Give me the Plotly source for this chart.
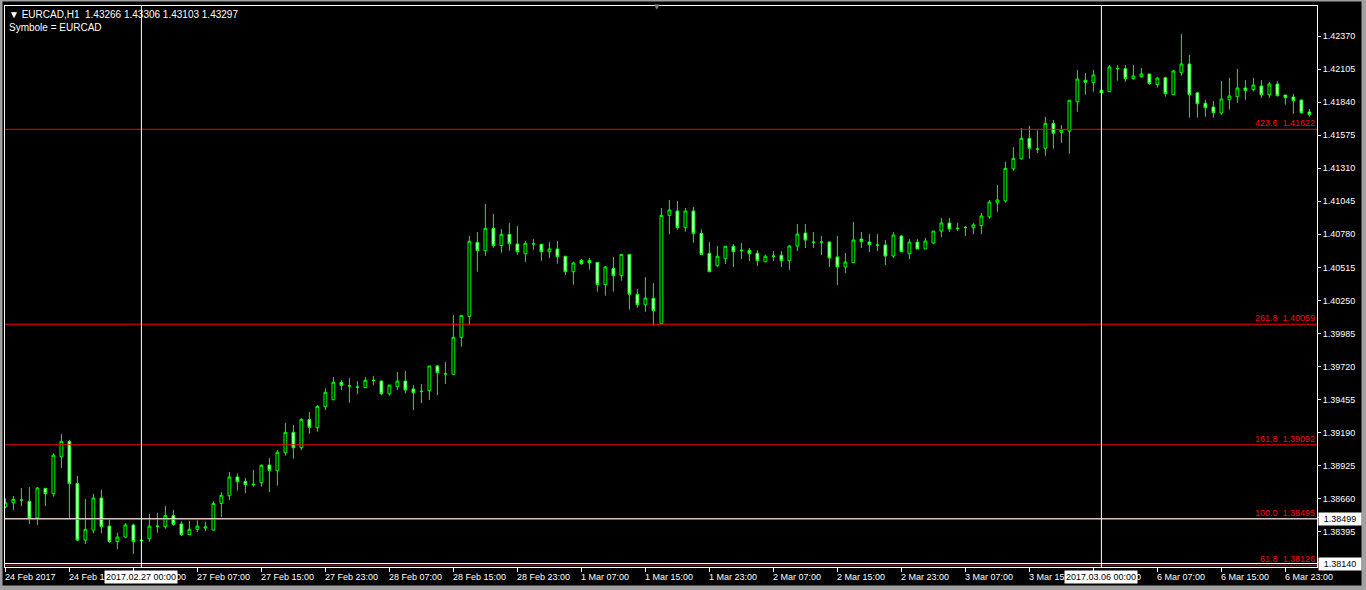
import plotly.graph_objects as go
import pandas as pd

# ---------------- data ----------------
times = [t.strftime("%Y.%m.%d %H:%M")
         for t in pd.date_range("2017-02-24 07:00", "2017-03-07 02:00", freq="h")
         if t.weekday() < 5]

open_ = [1.38595, 1.38627, 1.38646, 1.38639, 1.38505, 1.38743, 1.38700, 1.38996, 1.39120, 1.38783,
         1.38328, 1.38408, 1.38665, 1.38440, 1.38315, 1.38352, 1.38449, 1.38328, 1.38339, 1.38438,
         1.38435, 1.38526, 1.38457, 1.38371, 1.38414, 1.38424, 1.38408, 1.38622, 1.38683, 1.38834,
         1.38799, 1.38777, 1.38788, 1.38930, 1.38884, 1.39028, 1.39192, 1.39068, 1.39296, 1.39229,
         1.39397, 1.39453, 1.39593, 1.39566, 1.39553, 1.39550, 1.39606, 1.39603, 1.39501, 1.39558,
         1.39603, 1.39539, 1.39518, 1.39526, 1.39724, 1.39662, 1.39657, 1.39954, 1.40122, 1.40716,
         1.40648, 1.40828, 1.40689, 1.40780, 1.40702, 1.40624, 1.40702, 1.40700, 1.40640, 1.40662,
         1.40604, 1.40480, 1.40571, 1.40571, 1.40555, 1.40376, 1.40507, 1.40448, 1.40619, 1.40299,
         1.40215, 1.40267, 1.40063, 1.40932, 1.40967, 1.40833, 1.40967, 1.40788, 1.40628, 1.40528,
         1.40584, 1.40684, 1.40648, 1.40652, 1.40628, 1.40560, 1.40606, 1.40612, 1.40568, 1.40686,
         1.40790, 1.40718, 1.40716, 1.40718, 1.40598, 1.40518, 1.40552, 1.40742, 1.40718, 1.40694,
         1.40694, 1.40606, 1.40766, 1.40624, 1.40718, 1.40662, 1.40710, 1.40806, 1.40871, 1.40825,
         1.40833, 1.40833, 1.40849, 1.40921, 1.41033, 1.41049, 1.41306, 1.41386, 1.41550, 1.41462,
         1.41470, 1.41670, 1.41598, 1.41608, 1.41843, 1.42015, 1.41996, 1.41935, 1.41924, 1.42108,
         1.42108, 1.42028, 1.42044, 1.42066, 1.41980, 1.42036, 1.41899, 1.42076, 1.42146, 1.41915,
         1.41831, 1.41801, 1.41753, 1.41859, 1.41884, 1.41953, 1.41940, 1.41969, 1.41899, 1.41985,
         1.41897, 1.41881, 1.41857, 1.41761]

high_ = [1.38663, 1.38681, 1.38745, 1.38753, 1.38753, 1.38743, 1.39024, 1.39178, 1.39130, 1.38842,
         1.38657, 1.38697, 1.38732, 1.38489, 1.38387, 1.38465, 1.38459, 1.38334, 1.38539, 1.38547,
         1.38601, 1.38569, 1.38478, 1.38481, 1.38486, 1.38475, 1.38639, 1.38711, 1.38874, 1.38863,
         1.38825, 1.38890, 1.38935, 1.38986, 1.39050, 1.39267, 1.39251, 1.39304, 1.39355, 1.39411,
         1.39545, 1.39635, 1.39611, 1.39627, 1.39603, 1.39635, 1.39643, 1.39609, 1.39571, 1.39676,
         1.39684, 1.39571, 1.39579, 1.39724, 1.39732, 1.39756, 1.40133, 1.40130, 1.40766, 1.40798,
         1.41023, 1.40943, 1.40822, 1.40871, 1.40847, 1.40726, 1.40742, 1.40700, 1.40718, 1.40726,
         1.40604, 1.40560, 1.40582, 1.40590, 1.40555, 1.40526, 1.40598, 1.40619, 1.40619, 1.40341,
         1.40437, 1.40389, 1.40991, 1.41055, 1.41047, 1.40991, 1.40999, 1.40820, 1.40718, 1.40686,
         1.40684, 1.40702, 1.40710, 1.40670, 1.40652, 1.40616, 1.40646, 1.40646, 1.40694, 1.40862,
         1.40862, 1.40798, 1.40766, 1.40726, 1.40766, 1.40630, 1.40879, 1.40798, 1.40782, 1.40782,
         1.40734, 1.40798, 1.40774, 1.40742, 1.40742, 1.40750, 1.40806, 1.40911, 1.40911, 1.40871,
         1.40847, 1.40871, 1.40951, 1.41055, 1.41175, 1.41360, 1.41480, 1.41632, 1.41648, 1.41614,
         1.41721, 1.41697, 1.41656, 1.41855, 1.42098, 1.42073, 1.42098, 1.41945, 1.42138, 1.42138,
         1.42138, 1.42138, 1.42114, 1.42066, 1.42042, 1.42044, 1.42098, 1.42386, 1.42218, 1.41924,
         1.41859, 1.41849, 1.42009, 1.42033, 1.42106, 1.42017, 1.42033, 1.42017, 1.42001, 1.42009,
         1.41897, 1.41905, 1.41857, 1.41785]

low_ = [1.38582, 1.38569, 1.38601, 1.38457, 1.38449, 1.38601, 1.38676, 1.38906, 1.38502, 1.38320,
        1.38296, 1.38382, 1.38382, 1.38307, 1.38256, 1.38344, 1.38218, 1.38315, 1.38315, 1.38387,
        1.38419, 1.38443, 1.38360, 1.38371, 1.38392, 1.38400, 1.38400, 1.38513, 1.38649, 1.38724,
        1.38705, 1.38756, 1.38756, 1.38713, 1.38764, 1.39004, 1.38980, 1.39050, 1.39181, 1.39197,
        1.39371, 1.39453, 1.39531, 1.39429, 1.39499, 1.39550, 1.39571, 1.39491, 1.39485, 1.39531,
        1.39506, 1.39371, 1.39427, 1.39451, 1.39491, 1.39579, 1.39654, 1.39878, 1.40060, 1.40480,
        1.40608, 1.40672, 1.40632, 1.40648, 1.40616, 1.40558, 1.40656, 1.40568, 1.40590, 1.40544,
        1.40454, 1.40376, 1.40536, 1.40496, 1.40320, 1.40288, 1.40320, 1.40408, 1.40175, 1.40191,
        1.40159, 1.40047, 1.40063, 1.40782, 1.40817, 1.40801, 1.40712, 1.40619, 1.40480, 1.40518,
        1.40542, 1.40518, 1.40582, 1.40566, 1.40526, 1.40560, 1.40566, 1.40518, 1.40494, 1.40646,
        1.40670, 1.40670, 1.40614, 1.40518, 1.40373, 1.40470, 1.40552, 1.40670, 1.40638, 1.40646,
        1.40534, 1.40590, 1.40640, 1.40582, 1.40662, 1.40662, 1.40702, 1.40758, 1.40798, 1.40806,
        1.40766, 1.40782, 1.40782, 1.40905, 1.40961, 1.41033, 1.41290, 1.41378, 1.41386, 1.41432,
        1.41410, 1.41466, 1.41514, 1.41426, 1.41763, 1.41899, 1.41924, 1.41909, 1.41924, 1.42012,
        1.42004, 1.42020, 1.42036, 1.41980, 1.41956, 1.41884, 1.41899, 1.42052, 1.41715, 1.41715,
        1.41723, 1.41715, 1.41739, 1.41779, 1.41835, 1.41859, 1.41924, 1.41875, 1.41875, 1.41884,
        1.41819, 1.41747, 1.41747, 1.41723]

close_ = [1.38627, 1.38655, 1.38649, 1.38505, 1.38745, 1.38700, 1.39008, 1.39120, 1.38780, 1.38328,
          1.38414, 1.38665, 1.38435, 1.38315, 1.38352, 1.38449, 1.38315, 1.38323, 1.38440, 1.38440,
          1.38526, 1.38454, 1.38371, 1.38414, 1.38440, 1.38433, 1.38622, 1.38687, 1.38834, 1.38796,
          1.38772, 1.38772, 1.38927, 1.38887, 1.39032, 1.39192, 1.39068, 1.39296, 1.39232, 1.39400,
          1.39513, 1.39593, 1.39569, 1.39563, 1.39555, 1.39609, 1.39609, 1.39501, 1.39571, 1.39603,
          1.39531, 1.39509, 1.39521, 1.39724, 1.39670, 1.39660, 1.39954, 1.40130, 1.40724, 1.40648,
          1.40828, 1.40689, 1.40780, 1.40705, 1.40640, 1.40708, 1.40705, 1.40640, 1.40662, 1.40600,
          1.40480, 1.40550, 1.40544, 1.40552, 1.40376, 1.40518, 1.40448, 1.40619, 1.40299, 1.40215,
          1.40269, 1.40167, 1.40932, 1.40975, 1.40833, 1.40967, 1.40786, 1.40619, 1.40480, 1.40604,
          1.40684, 1.40640, 1.40652, 1.40624, 1.40568, 1.40604, 1.40604, 1.40568, 1.40686, 1.40782,
          1.40734, 1.40716, 1.40718, 1.40590, 1.40518, 1.40558, 1.40734, 1.40721, 1.40697, 1.40692,
          1.40606, 1.40774, 1.40640, 1.40718, 1.40662, 1.40726, 1.40806, 1.40871, 1.40822, 1.40828,
          1.40836, 1.40855, 1.40927, 1.41039, 1.41055, 1.41309, 1.41389, 1.41550, 1.41470, 1.41464,
          1.41670, 1.41590, 1.41616, 1.41855, 1.42025, 1.41999, 1.42058, 1.41915, 1.42122, 1.42110,
          1.42028, 1.42050, 1.42066, 1.41988, 1.42033, 1.41908, 1.42090, 1.42146, 1.41899, 1.41827,
          1.41795, 1.41755, 1.41865, 1.41889, 1.41953, 1.41932, 1.41977, 1.41899, 1.41985, 1.41892,
          1.41875, 1.41851, 1.41755, 1.41739]

x_tick_idx = list(range(0, 161, 8))
x_tick_labels = ["24 Feb 2017", "24 Feb 15:00", "24 Feb 23:00", "27 Feb 07:00", "27 Feb 15:00",
                 "27 Feb 23:00", "28 Feb 07:00", "28 Feb 15:00", "28 Feb 23:00", "1 Mar 07:00",
                 "1 Mar 15:00", "1 Mar 23:00", "2 Mar 07:00", "2 Mar 15:00", "2 Mar 23:00",
                 "3 Mar 07:00", "3 Mar 15:00", "3 Mar 23:00", "6 Mar 07:00", "6 Mar 15:00",
                 "6 Mar 23:00"]
y_tick_vals = [1.42370, 1.42105, 1.41840, 1.41575, 1.41310, 1.41045, 1.40780, 1.40515,
               1.40250, 1.39985, 1.39720, 1.39455, 1.39190, 1.38925, 1.38660, 1.38395]
fib_levels = ["423.6", "261.8", "161.8", "100.0", "61.8"]
fib_prices = [1.41622, 1.40059, 1.39092, 1.38495, 1.38126]
hline_prices = [1.38499, 1.38140]
vline_times = ["2017.02.27 00:00", "2017.03.06 00:00"]
header_line1 = "▼ EURCAD,H1\u00a0\u00a01.43266 1.43306 1.43103 1.43297"
header_line2 = "Symbole = EURCAD"

# ---------------- layout geometry ----------------
W, H = 1366, 590
ML, MR, MT, MB = 5, 49, 6, 23
PW, PH = W - ML - MR, H - MT - MB


def px_x(px):
    return (px - ML) / PW


def px_y(py):
    return (H - MB - py) / PH


FONT = "Liberation Sans, Arial, sans-serif"
GREEN = "#00FF00"

fig = go.Figure()
fig.add_trace(go.Candlestick(
    x=times, open=open_, high=high_, low=low_, close=close_,
    increasing=dict(line=dict(color=GREEN, width=1), fillcolor="#000000"),
    decreasing=dict(line=dict(color=GREEN, width=1), fillcolor="#FFFFFF"),
    whiskerwidth=0, showlegend=False, hoverinfo="skip",
))

shapes = []
annotations = []

# red fibonacci lines + labels
for lvl, p in zip(fib_levels, fib_prices):
    shapes.append(dict(type="line", xref="paper", x0=0, x1=1, yref="y", y0=p, y1=p,
                       line=dict(color="#FF0000", width=1), layer="above"))
    annotations.append(dict(xref="paper", x=1, xanchor="right", xshift=-1,
                            yref="y", y=p, yanchor="bottom", yshift=0,
                            text=f"{lvl}\u00a0\u00a0{p:.5f}", showarrow=False,
                            font=dict(family=FONT, size=9, color="#FF0000"), borderpad=0))

# white horizontal lines and their price boxes
for p in hline_prices:
    shapes.append(dict(type="line", xref="paper", x0=0, x1=1, yref="y", y0=p, y1=p,
                       line=dict(color="#FFFFFF", width=1), layer="above"))

# white vertical lines
for t in vline_times:
    shapes.append(dict(type="line", xref="x", x0=t, x1=t, yref="paper", y0=0, y1=1,
                       line=dict(color="#FFFFFF", width=1), layer="above"))

# x-axis labels (left aligned at each tick, MT4 style)
for i, lab in zip(x_tick_idx, x_tick_labels):
    annotations.append(dict(xref="x", x=times[i], xanchor="left", xshift=-2,
                            yref="paper", y=0, yanchor="top", yshift=-3,
                            text=lab, showarrow=False,
                            font=dict(family=FONT, size=9, color="#FFFFFF")))

# boxed labels for the vertical lines
for t in vline_times:
    annotations.append(dict(xref="x", x=t, xanchor="center",
                            yref="paper", y=0, yanchor="top", yshift=-3,
                            text=t, showarrow=False, bgcolor="#FFFFFF", borderpad=1,
                            font=dict(family=FONT, size=9, color="#000000")))

# boxed labels on price axis for horizontal lines
for p in hline_prices:
    annotations.append(dict(xref="paper", x=1, xanchor="left", xshift=1,
                            yref="y", y=p, yanchor="middle",
                            text=f"{p:.5f}", showarrow=False, bgcolor="#FFFFFF",
                            borderpad=1, width=40, align="center",
                            font=dict(family=FONT, size=9, color="#000000")))
    shapes.append(dict(type="line", xref="paper", x0=px_x(1318), x1=px_x(1360),
                       yref="y", y0=p, y1=p, ysizemode="pixel", yanchor=p,
                       line=dict(color="#20B0B0", width=1)))

# header texts
annotations.append(dict(xref="paper", x=0, xanchor="left", xshift=2,
                        yref="paper", y=1, yanchor="top", yshift=-1,
                        text=header_line1, showarrow=False,
                        font=dict(family=FONT, size=10, color="#FFFFFF")))
annotations.append(dict(xref="paper", x=0, xanchor="left", xshift=2,
                        yref="paper", y=1, yanchor="top", yshift=-14,
                        text=header_line2, showarrow=False,
                        font=dict(family=FONT, size=10, color="#FFFFFF")))
annotations.append(dict(xref="paper", x=px_x(657), xanchor="center",
                        yref="paper", y=1, yanchor="middle", yshift=-1,
                        text="▼", showarrow=False,
                        font=dict(family="DejaVu Sans", size=7, color="#808080")))

# window frame (light grey)
GREY = "#A0A0A0"
for (x0, x1, y0, y1) in [(0, 2.5, 0, H), (1361.5, W, 0, H), (0, W, 0, 1.5), (0, W, 585.5, H)]:
    shapes.append(dict(type="rect", xref="paper", yref="paper",
                       x0=px_x(x0), x1=px_x(x1), y0=px_y(y1), y1=px_y(y0),
                       fillcolor=GREY, line=dict(width=0), layer="above"))

fig.update_layout(
    width=W, height=H,
    margin=dict(l=ML, r=MR, t=MT, b=MB, pad=0),
    paper_bgcolor="#000000", plot_bgcolor="#000000",
    boxgap=0.5,
    shapes=shapes, annotations=annotations,
    showlegend=False,
    xaxis=dict(type="category", range=[-0.05, 163.95], rangeslider=dict(visible=False),
               tickvals=[times[i] for i in x_tick_idx], ticktext=[""] * len(x_tick_idx),
               ticks="outside", ticklen=4, tickcolor="#FFFFFF", tickwidth=1,
               showgrid=False, zeroline=False, showline=True, linecolor="#FFFFFF",
               linewidth=1, mirror=True, fixedrange=True),
    yaxis=dict(side="right", range=[1.38112, 1.42611],
               tickvals=y_tick_vals, ticktext=[f"{v:.5f}" for v in y_tick_vals],
               ticks="outside", ticklen=3, tickcolor="#FFFFFF", tickwidth=1,
               tickfont=dict(family=FONT, size=9, color="#FFFFFF"),
               showgrid=False, zeroline=False, showline=True, linecolor="#FFFFFF",
               linewidth=1, mirror=True, fixedrange=True),
)

fig.write_html("out.html", config={"displayModeBar": False},
               post_script="document.body.style.margin='0';document.body.style.overflow='hidden';")
